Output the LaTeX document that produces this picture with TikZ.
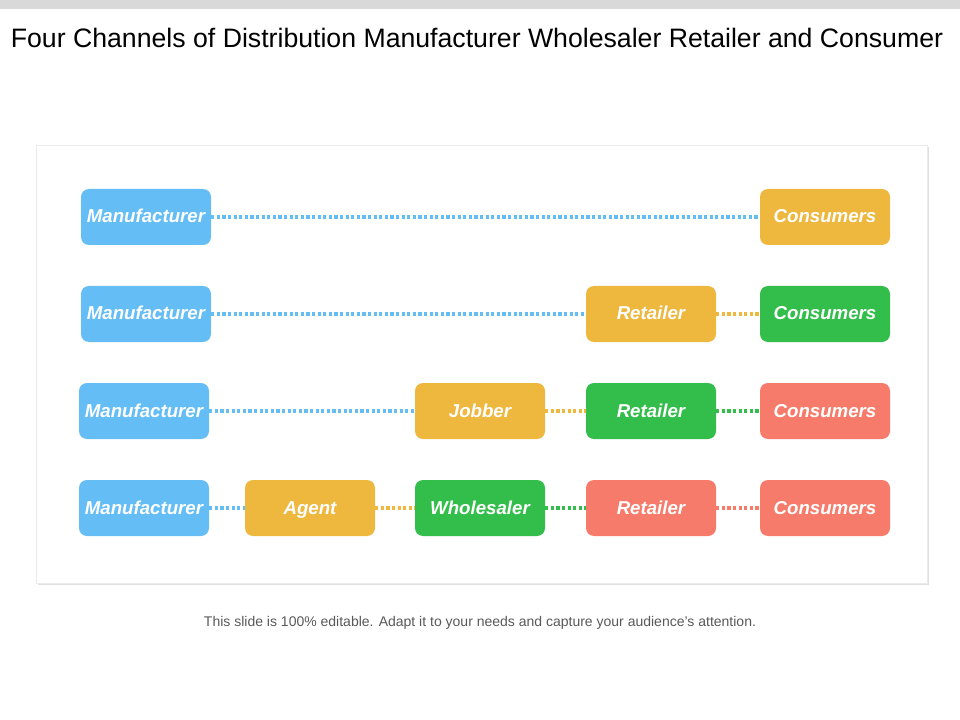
\documentclass[tikz,border=0pt]{standalone}
\usepackage{fontspec}
\setmainfont{Liberation Sans}
\usetikzlibrary{positioning}
\definecolor{chblue}{RGB}{100,190,245}
\definecolor{chyellow}{RGB}{238,184,62}
\definecolor{chgreen}{RGB}{51,190,75}
\definecolor{chred}{RGB}{247,123,106}
\tikzset{
  stage/.style={rounded corners=6pt, minimum width=97.5pt, minimum height=42pt,
    text=white, font=\bfseries\itshape\fontsize{14}{16}\selectfont, inner sep=0pt,
    text height=11pt, text depth=2pt},
  link/.style={line width=2.4pt, dash pattern=on 2.4pt off 1.8pt}
}
\begin{document}
\begin{tikzpicture}[x=0.75pt, y=-0.75pt]
\useasboundingbox (0,0) rectangle (960,720);
\fill[white] (0,0) rectangle (960,720);
\fill[black!15] (0,0) rectangle (960,9);

% title and panel
\node (title) at (477,38) {\fontsize{20}{24}\selectfont Four Channels of Distribution Manufacturer Wholesaler Retailer and Consumer};
\fill[black!12] (38,147) rectangle (929,585);
\fill[white, draw=black!8] (36,145) rectangle (927,583);

% row 1
\node[stage, fill=chblue] (m1) at (146,217) {Manufacturer};
\node[stage, fill=chyellow] (c1) at (825,217) {Consumers};
\draw[link, chblue] (m1) -- (c1);

% row 2
\node[stage, fill=chblue] (m2) at (146,314) {Manufacturer};
\node[stage, fill=chyellow] (r2) at (651,314) {Retailer};
\node[stage, fill=chgreen] (c2) at (825,314) {Consumers};
\draw[link, chblue] (m2) -- (r2);
\draw[link, chyellow] (r2) -- (c2);

% row 3
\node[stage, fill=chblue] (m3) at (144,411) {Manufacturer};
\node[stage, fill=chyellow] (j3) at (480,411) {Jobber};
\node[stage, fill=chgreen] (r3) at (651,411) {Retailer};
\node[stage, fill=chred] (c3) at (825,411) {Consumers};
\draw[link, chblue] (m3) -- (j3);
\draw[link, chyellow] (j3) -- (r3);
\draw[link, chgreen] (r3) -- (c3);

% row 4
\node[stage, fill=chblue] (m4) at (144,508) {Manufacturer};
\node[stage, fill=chyellow] (a4) at (310,508) {Agent};
\node[stage, fill=chgreen] (w4) at (480,508) {Wholesaler};
\node[stage, fill=chred] (r4) at (651,508) {Retailer};
\node[stage, fill=chred] (c4) at (825,508) {Consumers};
\draw[link, chblue] (m4) -- (a4);
\draw[link, chyellow] (a4) -- (w4);
\draw[link, chgreen] (w4) -- (r4);
\draw[link, chred] (r4) -- (c4);

\node[text=black!65, font=\fontsize{10.5}{12}\selectfont] (note) at (480,623) {This slide is 100\% editable. Adapt it to your needs and capture your audience's attention.};
\end{tikzpicture}
\end{document}
